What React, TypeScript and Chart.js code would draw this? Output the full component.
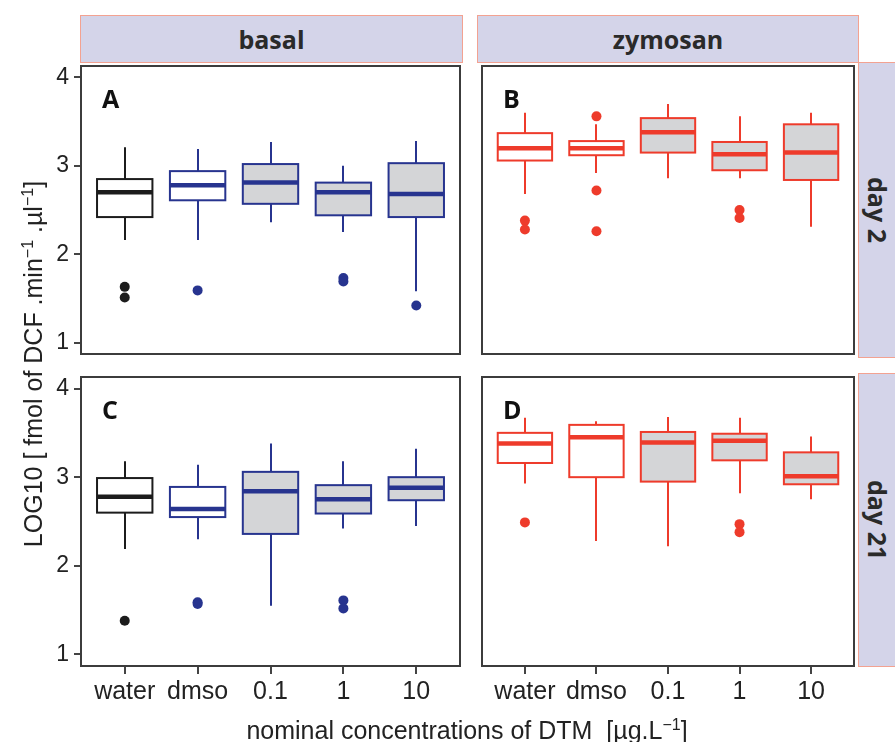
import React, { useEffect, useRef } from 'react';
import { Chart, registerables } from 'chart.js';

Chart.register(...registerables);

const categories = ['water', 'dmso', '0.1', '1', '10'];
const yTickValues = [1, 2, 3, 4];

// each box: [lower whisker, Q1, median, Q3, upper whisker]
const basalDay2Stats = [
  [2.16, 2.42, 2.7, 2.85, 3.21],
  [2.16, 2.61, 2.78, 2.94, 3.19],
  [2.36, 2.57, 2.81, 3.02, 3.27],
  [2.25, 2.44, 2.7, 2.81, 3.0],
  [1.58, 2.42, 2.68, 3.03, 3.28],
];
const basalDay2Outliers = [[1.63, 1.51], [1.59], [], [1.73, 1.69], [1.42]];

const zymosanDay2Stats = [
  [2.68, 3.06, 3.2, 3.37, 3.6],
  [2.92, 3.12, 3.2, 3.28, 3.47],
  [2.86, 3.15, 3.38, 3.54, 3.7],
  [2.86, 2.95, 3.13, 3.27, 3.56],
  [2.31, 2.84, 3.15, 3.47, 3.6],
];
const zymosanDay2Outliers = [[2.38, 2.28], [3.56, 2.72, 2.26], [], [2.5, 2.41], []];

const basalDay21Stats = [
  [2.19, 2.6, 2.78, 2.99, 3.18],
  [2.3, 2.55, 2.64, 2.89, 3.14],
  [1.55, 2.36, 2.84, 3.06, 3.38],
  [2.42, 2.59, 2.75, 2.91, 3.18],
  [2.45, 2.74, 2.88, 3.0, 3.32],
];
const basalDay21Outliers = [[1.38], [1.59, 1.57], [], [1.61, 1.52], []];

const zymosanDay21Stats = [
  [2.93, 3.16, 3.38, 3.5, 3.67],
  [2.28, 3.0, 3.45, 3.59, 3.63],
  [2.22, 2.95, 3.39, 3.51, 3.68],
  [2.82, 3.19, 3.41, 3.49, 3.67],
  [2.75, 2.92, 3.01, 3.28, 3.46],
];
const zymosanDay21Outliers = [[2.49], [], [], [2.47, 2.38], []];

const BLACK = '#1c1c1c';
const BLUE = '#27348f';
const RED = '#ee3b2b';
const WHITE = '#ffffff';
const GRAY = '#d4d5d7';
const basalColors = [BLACK, BLUE, BLUE, BLUE, BLUE];
const zymosanColors = [RED, RED, RED, RED, RED];
const boxFills = [WHITE, WHITE, GRAY, GRAY, GRAY];

const BOX_WIDTH = 0.76;
const FONT = '"Liberation Sans", Arial, sans-serif';

type PanelSpec = {
  stats: number[][];
  outliers: number[][];
  colors: string[];
  letter: string;
  showY: boolean;
  showX: boolean;
  left: number;
  top: number;
  width: number;
  height: number;
};

function zeroPadding(scale: any) {
  scale.paddingTop = 0;
  scale.paddingBottom = 0;
  scale.paddingLeft = 0;
  scale.paddingRight = 0;
}

function Panel({ spec }: { spec: PanelSpec }) {
  const ref = useRef<HTMLCanvasElement>(null);
  useEffect(() => {
    const canvas = ref.current!;
    const { stats, outliers, colors, letter, showY, showX } = spec;

    const boxPlugin = {
      id: 'boxes' + letter,
      beforeDatasetsDraw(chart: any) {
        const { ctx } = chart;
        const x = chart.scales.x;
        const y = chart.scales.y;
        ctx.save();
        stats.forEach((s, i) => {
          const [lo, q1, med, q3, hi] = s;
          const cx = Math.round(x.getPixelForValue(i));
          const l = x.getPixelForValue(i - BOX_WIDTH / 2);
          const r = x.getPixelForValue(i + BOX_WIDTH / 2);
          const yLo = y.getPixelForValue(lo);
          const yQ1 = y.getPixelForValue(q1);
          const yMed = y.getPixelForValue(med);
          const yQ3 = y.getPixelForValue(q3);
          const yHi = y.getPixelForValue(hi);
          ctx.strokeStyle = colors[i];
          ctx.lineWidth = 2;
          ctx.beginPath();
          ctx.moveTo(cx, yHi);
          ctx.lineTo(cx, yQ3);
          ctx.moveTo(cx, yQ1);
          ctx.lineTo(cx, yLo);
          ctx.stroke();
          ctx.fillStyle = boxFills[i];
          ctx.fillRect(l, yQ3, r - l, yQ1 - yQ3);
          ctx.strokeRect(l, yQ3, r - l, yQ1 - yQ3);
          ctx.lineWidth = 4.5;
          ctx.beginPath();
          ctx.moveTo(l, yMed);
          ctx.lineTo(r, yMed);
          ctx.stroke();
        });
        ctx.restore();
      },
      afterDraw(chart: any) {
        const { ctx, chartArea } = chart;
        ctx.save();
        ctx.strokeStyle = '#3c3c3c';
        ctx.lineWidth = 2;
        ctx.strokeRect(chartArea.left, chartArea.top, chartArea.right - chartArea.left, chartArea.bottom - chartArea.top);
        ctx.fillStyle = '#111111';
        ctx.font = 'bold 25px "Open Sans", "Liberation Sans", sans-serif';
        ctx.textBaseline = 'alphabetic';
        ctx.textAlign = 'left';
        ctx.fillText(letter, chartArea.left + 21, chartArea.top + 42);
        ctx.restore();
      },
    };

    const points: { x: number; y: number }[] = [];
    const pointColors: string[] = [];
    outliers.forEach((arr, i) =>
      arr.forEach((v) => {
        points.push({ x: i, y: v });
        pointColors.push(colors[i]);
      })
    );

    const chart = new Chart(canvas, {
      type: 'scatter',
      data: {
        datasets: [
          {
            data: points,
            pointRadius: 5,
            pointHoverRadius: 5,
            pointBackgroundColor: pointColors,
            pointBorderWidth: 0,
            showLine: false,
          },
        ],
      },
      options: {
        responsive: false,
        maintainAspectRatio: false,
        animation: false,
        events: [],
        layout: {
          padding: {
            top: 2,
            right: 2,
            bottom: showX ? 0 : 2,
            left: showY ? 0 : 2,
          },
        },
        plugins: { legend: { display: false }, tooltip: { enabled: false }, title: { display: false } },
        scales: {
          x: {
            type: 'linear',
            min: -0.6,
            max: 4.6,
            display: showX,
            afterBuildTicks: (scale: any) => {
              scale.ticks = categories.map((_, i) => ({ value: i }));
            },
            afterFit: (scale: any) => {
              scale.height = showX ? 76 : 0;
              zeroPadding(scale);
            },
            grid: {
              display: true,
              drawOnChartArea: false,
              drawTicks: true,
              tickLength: 8,
              color: '#444444',
              lineWidth: 2,
            },
            border: { display: false },
            ticks: {
              autoSkip: false,
              maxRotation: 0,
              minRotation: 0,
              padding: 3,
              color: '#222222',
              font: { family: FONT, size: 25 },
              callback: (v: any) => categories[Math.round(Number(v))] ?? '',
            },
          },
          y: {
            type: 'linear',
            min: 0.87,
            max: 4.13,
            display: showY,
            afterBuildTicks: (scale: any) => {
              scale.ticks = yTickValues.map((v) => ({ value: v }));
            },
            afterFit: (scale: any) => {
              scale.width = showY ? 81 : 0;
              zeroPadding(scale);
            },
            grid: {
              display: true,
              drawOnChartArea: false,
              drawTicks: true,
              tickLength: 7,
              color: '#444444',
              lineWidth: 2,
            },
            border: { display: false },
            ticks: {
              padding: 5,
              color: '#222222',
              font: { family: FONT, size: 23 },
              callback: (v: any) => String(v),
            },
          },
        },
      },
      plugins: [boxPlugin],
    } as any);
    return () => chart.destroy();
  }, [spec]);

  return (
    <div style={{ position: 'absolute', left: spec.left, top: spec.top, width: spec.width, height: spec.height }}>
      <canvas ref={ref} width={spec.width} height={spec.height} />
    </div>
  );
}

const panels: PanelSpec[] = [
  { stats: basalDay2Stats, outliers: basalDay2Outliers, colors: basalColors, letter: 'A', showY: true, showX: false, left: 0, top: 61, width: 465, height: 298 },
  { stats: zymosanDay2Stats, outliers: zymosanDay2Outliers, colors: zymosanColors, letter: 'B', showY: false, showX: false, left: 477, top: 61, width: 382, height: 298 },
  { stats: basalDay21Stats, outliers: basalDay21Outliers, colors: basalColors, letter: 'C', showY: true, showX: true, left: 0, top: 372, width: 465, height: 370 },
  { stats: zymosanDay21Stats, outliers: zymosanDay21Outliers, colors: zymosanColors, letter: 'D', showY: false, showX: true, left: 477, top: 372, width: 382, height: 370 },
];

const stripStyle: React.CSSProperties = {
  position: 'absolute',
  boxSizing: 'border-box',
  background: '#d4d4e9',
  border: '1px solid #f3a291',
  color: '#2a2a2a',
  fontFamily: '"Open Sans", "Liberation Sans", sans-serif',
  fontWeight: 700,
  fontSize: 25,
  display: 'flex',
  alignItems: 'center',
  justifyContent: 'center',
};

export default function App() {
  return (
    <div
      style={{
        position: 'absolute',
        left: 0,
        top: 0,
        width: 895,
        height: 742,
        overflow: 'hidden',
        background: '#ffffff',
      }}
    >
      <div style={{ ...stripStyle, left: 80, top: 15, width: 383, height: 48 }}>basal</div>
      <div style={{ ...stripStyle, left: 477, top: 15, width: 382, height: 48 }}>zymosan</div>
      <div style={{ ...stripStyle, left: 858, top: 62, width: 40, height: 296, writingMode: 'vertical-rl' }}>day 2</div>
      <div style={{ ...stripStyle, left: 858, top: 373, width: 40, height: 294, writingMode: 'vertical-rl' }}>day 21</div>
      {panels.map((p) => (
        <Panel key={p.letter} spec={p} />
      ))}
      <div
        style={{
          position: 'absolute',
          left: 28 - 260,
          top: 364 - 15,
          width: 520,
          height: 30,
          lineHeight: '30px',
          textAlign: 'center',
          transform: 'rotate(-90deg)',
          fontFamily: FONT,
          fontSize: 25,
          color: '#222222',
          whiteSpace: 'nowrap',
        }}
      >
        LOG10 [ fmol of DCF .min<sup style={{ fontSize: 16 }}>−1</sup> .µl<sup style={{ fontSize: 16 }}>−1</sup>]
      </div>
      <div
        style={{
          position: 'absolute',
          left: 467 - 300,
          top: 710,
          width: 600,
          height: 30,
          lineHeight: '30px',
          textAlign: 'center',
          fontFamily: FONT,
          fontSize: 25,
          color: '#222222',
          whiteSpace: 'nowrap',
        }}
      >
        nominal concentrations of DTM&nbsp;&nbsp;[µg.L<sup style={{ fontSize: 16 }}>−1</sup>]
      </div>
    </div>
  );
}
